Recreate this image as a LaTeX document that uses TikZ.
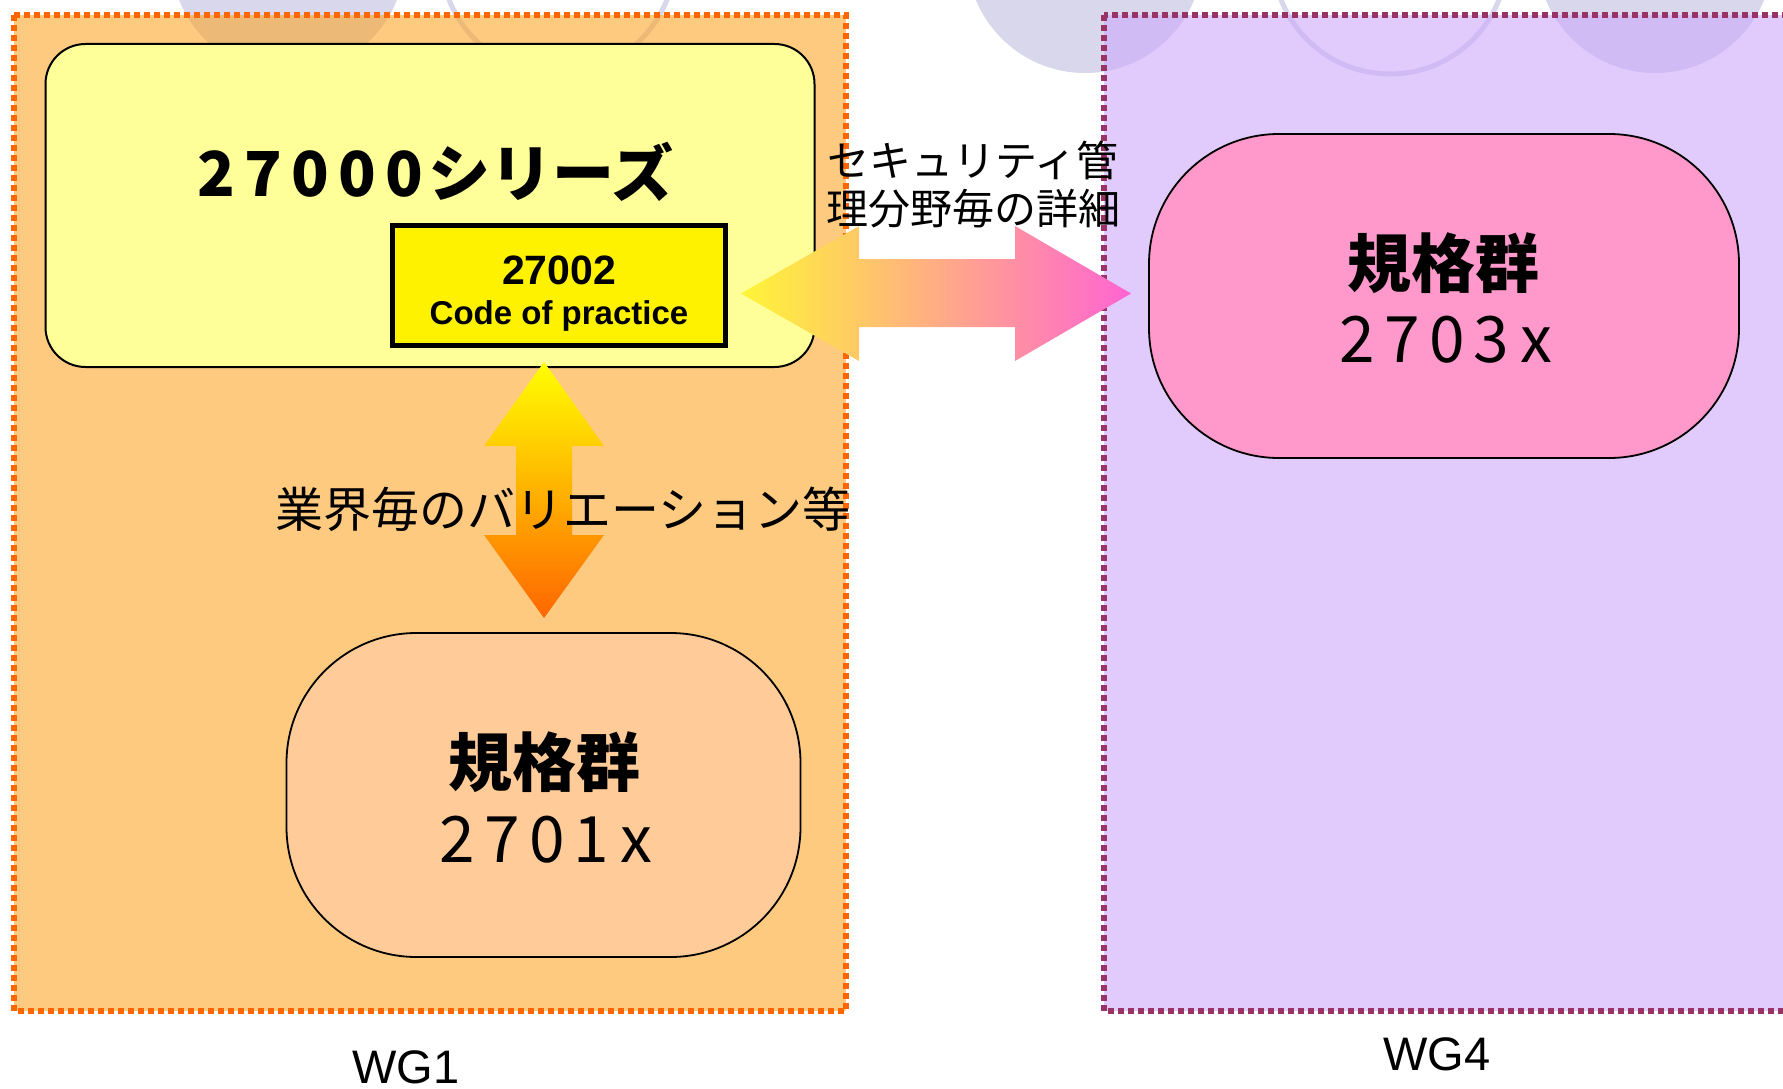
\documentclass[tikz,border=0pt]{standalone}
\usepackage{fontspec}
\setmainfont{Liberation Sans}
\newfontfamily\jp{Noto Sans CJK JP}
\newcommand\dg[2][0.7em]{\makebox[#1]{#2}}
\definecolor{wgorange}{RGB}{253,165,36}
\definecolor{wgpurple}{RGB}{203,167,250}
\definecolor{bordero}{RGB}{255,102,0}
\definecolor{borderp}{RGB}{153,51,102}
\definecolor{lav}{RGB}{217,215,236}
\definecolor{lightyel}{RGB}{255,255,153}
\definecolor{peach}{RGB}{255,204,153}
\definecolor{pinkfill}{RGB}{255,153,204}
\definecolor{arryel}{RGB}{255,245,55}
\definecolor{arrmid}{RGB}{252,192,150}
\definecolor{arrpink}{RGB}{255,100,210}
\definecolor{vtop}{RGB}{255,255,0}
\definecolor{vbot}{RGB}{255,102,0}
\tikzset{
  wgbox/.style={fill opacity=0.58, line width=5.5pt, dash pattern=on 6pt off 4pt},
  stadium/.style={draw=black, line width=1.8pt, rounded corners=130pt, minimum width=#1, minimum height=324pt, inner sep=0pt},
  bigjp/.style={font=\jp\bfseries\fontsize{64}{72}\selectfont},
  bignum/.style={font=\jp\fontsize{64}{72}\selectfont},
  wglabel/.style={font=\fontsize{47}{54}\selectfont, inner sep=0pt}
}
\begin{document}
\begin{tikzpicture}[x=1pt,y=-1pt]
\clip (0,0) rectangle (1783,1089);
\fill[white] (0,0) rectangle (1783,1089);
% background circles
\fill[lav] (288,-43) circle[radius=117pt];
\draw[lav, line width=5pt] (558,-43) circle[radius=117pt];
\fill[lav] (1085,-45) circle[radius=118pt];
\draw[lav, line width=5pt] (1390,-43) circle[radius=117pt];
\fill[lav] (1655,-45) circle[radius=118pt];
% working group areas
\path[wgbox, fill=wgorange, draw=bordero] (14,15) rectangle (846,1011);
\path[wgbox, fill=wgpurple, draw=borderp] (1104,15) rectangle (1830,1011);
% 27000 series box
\node[draw=black, line width=2pt, fill=lightyel, rounded corners=40pt,
      minimum width=769pt, minimum height=323pt, inner sep=0pt] (series) at (430,205.5) {};
\node[font=\jp\bfseries\fontsize{62}{70}\selectfont] (title) at (433,172)
  {\dg[0.76em]2\dg[0.76em]7\dg[0.76em]0\dg[0.76em]0\dg[0.76em]0シリーズ};
\node[draw=black, line width=5pt, fill=yellow, minimum width=333pt, minimum height=120pt, inner sep=0pt] (cop) at (559,285.5) {};
\node[font=\bfseries\fontsize{41}{46}\selectfont, anchor=base] (copnum) at (559,284) {27002};
\node[font=\bfseries\fontsize{33}{38}\selectfont, anchor=base] (coptxt) at (559,324) {Code of practice};
% horizontal double arrow
\path[left color=arryel, middle color=arrmid, right color=arrpink]
  (741,293.5) -- (859,226) -- (859,259) -- (1015,259) -- (1015,226) -- (1131,293.5)
  -- (1015,361) -- (1015,327) -- (859,327) -- (859,361) -- cycle;
\node[font=\jp\fontsize{42}{48}\selectfont, align=center] (lblh) at (973,185)
  {セキュリティ管\\理分野毎の詳細};
% vertical double arrow
\path[top color=vtop, bottom color=vbot]
  (544,362) -- (604,446) -- (572,446) -- (572,535) -- (604,535) -- (544,618)
  -- (484,535) -- (516,535) -- (516,446) -- (484,446) -- cycle;
\node[font=\jp\fontsize{48}{56}\selectfont] (lblv) at (563,509) {業界毎のバリエーション等};
% standard groups
\node[stadium=514pt, fill=peach] (g1) at (543.5,795) {};
\node[bigjp] (g1a) at (544,762) {規格群};
\node[bignum] (g1b) at (547,840) {\dg2\dg7\dg0\dg1\dg x};
\node[stadium=590pt, fill=pinkfill] (g3) at (1444,296) {};
\node[bigjp] (g3a) at (1443,263) {規格群};
\node[bignum] (g3b) at (1447,340) {\dg2\dg7\dg0\dg3\dg x};
% WG labels
\node[wglabel] (wg1) at (406,1067) {WG1};
\node[wglabel] (wg4) at (1437,1054) {WG4};
\end{tikzpicture}
\end{document}
